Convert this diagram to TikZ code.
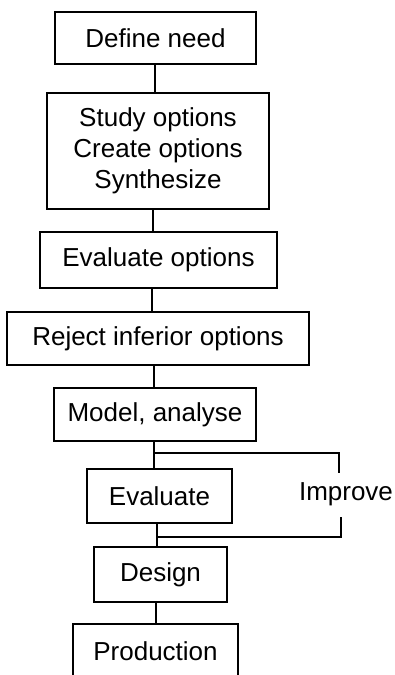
\documentclass[tikz,border=0pt]{standalone}
\usepackage{fontspec}
\setmainfont{Liberation Sans}
\begin{document}
\begin{tikzpicture}[x=1pt,y=-1pt,
  box/.style={draw, line width=1.1pt, inner sep=0pt, align=center,
    font=\fontsize{26}{31}\selectfont},
  conn/.style={line width=1.1pt},
  lbl/.style={inner sep=0pt, font=\fontsize{26}{31}\selectfont}]
\clip (0,0) rectangle (395,675);
\fill[white] (0,0) rectangle (395,675);
\node[box, minimum width=201pt, minimum height=52pt] (define) at (155.5,38) {Define need};
\node[box, minimum width=222pt, minimum height=116pt] (study) at (158,151) {Study options\\Create options\\Synthesize};
\node[box, minimum width=237pt, minimum height=56pt] (evalopt) at (158.5,260) {Evaluate options};
\node[box, minimum width=302pt, minimum height=53pt] (reject) at (158,338.5) {Reject inferior options};
\node[box, minimum width=202pt, minimum height=53pt] (model) at (155,414.5) {Model, analyse};
\node[box, minimum width=145pt, minimum height=54pt] (evaluate) at (159.5,496) {Evaluate};
\node[box, minimum width=133pt, minimum height=55pt] (design) at (160.5,574.5) {Design};
\node[box, minimum width=165pt, minimum height=54pt] (production) at (155.5,651) {Production};
\node[lbl] (improve) at (346,494) {Improve};

\draw[conn] (155,0 |- define.south) -- (155,0 |- study.north);
\draw[conn] (153,0 |- study.south) -- (153,0 |- evalopt.north);
\draw[conn] (152,0 |- evalopt.south) -- (152,0 |- reject.north);
\draw[conn] (154,0 |- reject.south) -- (154,0 |- model.north);
\draw[conn] (154,0 |- model.south) -- (154,0 |- evaluate.north);
\draw[conn] (157,0 |- evaluate.south) -- (157,0 |- design.north);
\draw[conn] (156,0 |- design.south) -- (156,0 |- production.north);

\coordinate (j1) at (154,453);
\coordinate (j2) at (157,537);
\coordinate (i1) at (339,473);
\coordinate (i2) at (341,517);
\draw[conn] (j1) -| (i1);
\draw[conn] (i2) |- (j2);
\end{tikzpicture}
\end{document}
